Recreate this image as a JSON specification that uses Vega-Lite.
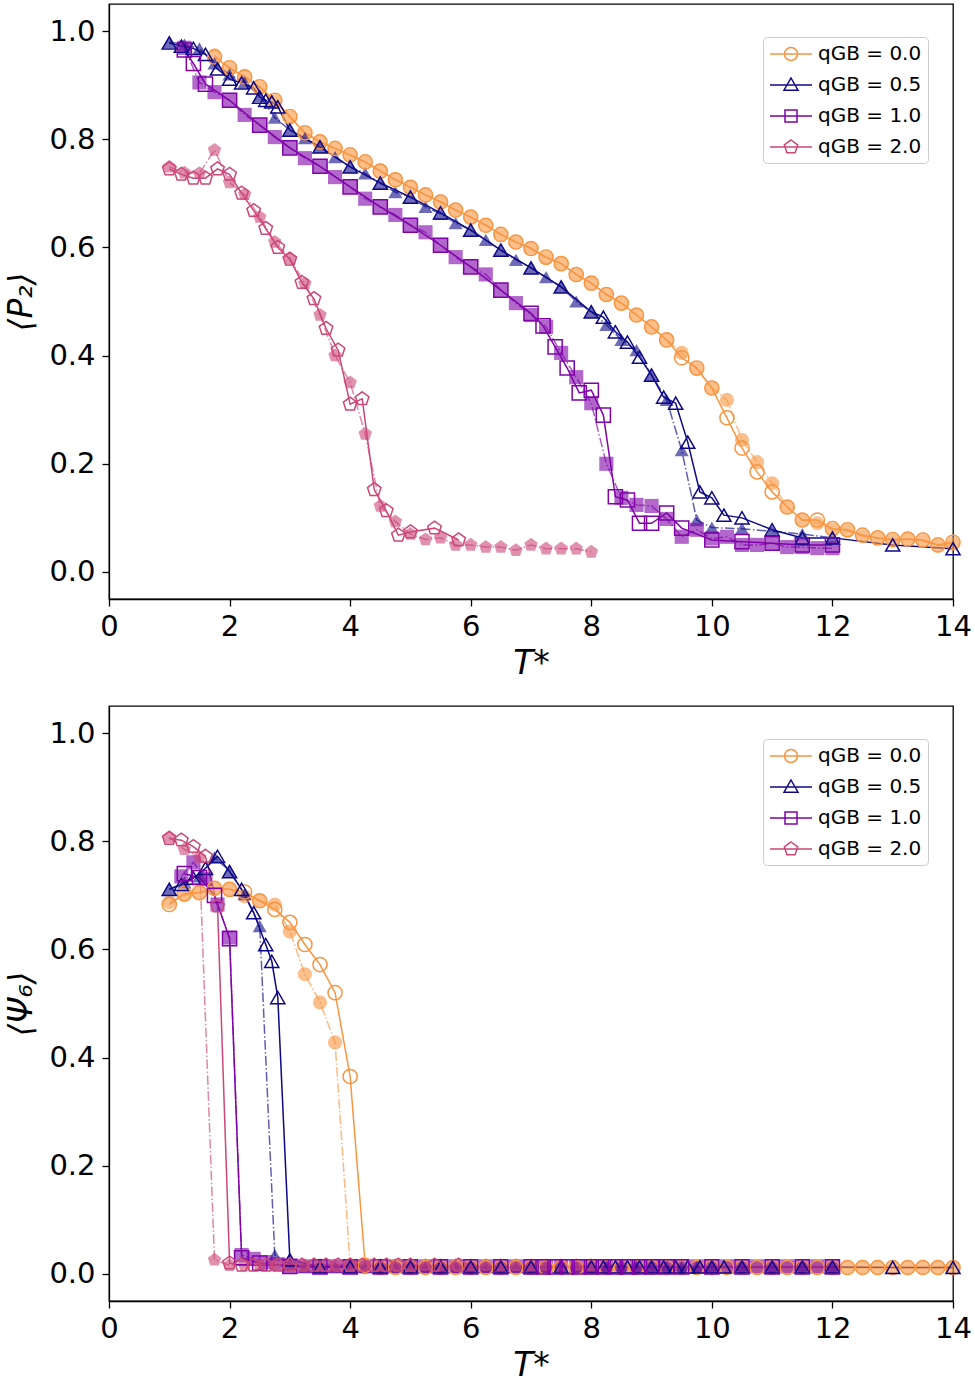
{
  "$schema": "https://vega.github.io/schema/vega-lite/v6.json",
  "padding": {"top": 3, "left": 5, "right": 5, "bottom": 2},
  "spacing": 24,
  "config": {
    "font": "DejaVu Sans",
    "view": {"stroke": "black", "strokeWidth": 1.3},
    "axis": {
      "grid": false, "domainColor": "black", "domainWidth": 1.3,
      "tickColor": "black", "tickWidth": 1.3, "tickSize": 7,
      "labelFontSize": 29, "labelColor": "black", "labelPadding": 7,
      "titleFontSize": 33, "titleFontWeight": "normal", "titleColor": "black", "titleFontStyle": "italic"
    },
    "axisX": {"titlePadding": 6, "labelPadding": 6, "labelFlush": false},
    "axisY": {"titlePadding": 10},
    "legend": {
      "orient": "none", "legendX": 654, "legendY": 33, "title": null,
      "fillColor": "white", "strokeColor": "#cccccc", "cornerRadius": 4, "padding": 6,
      "labelFontSize": 20, "labelColor": "black", "labelOffset": 16, "rowPadding": 10,
      "symbolSize": 400, "symbolOffset": 11, "symbolStrokeWidth": 1.5, "symbolOpacity": 1
    }
  },
  "datasets": {
    "top": [
      {"q":"0.0","k":"o","T":1.75,"v":0.952},{"q":"0.0","k":"o","T":2,"v":0.932},{"q":"0.0","k":"o","T":2.25,"v":0.915},{"q":"0.0","k":"o","T":2.5,"v":0.897},{"q":"0.0","k":"o","T":2.75,"v":0.872},{"q":"0.0","k":"o","T":3,"v":0.842},{"q":"0.0","k":"o","T":3.25,"v":0.812},{"q":"0.0","k":"o","T":3.5,"v":0.795},{"q":"0.0","k":"o","T":3.75,"v":0.783},{"q":"0.0","k":"o","T":4,"v":0.771},{"q":"0.0","k":"o","T":4.25,"v":0.758},{"q":"0.0","k":"o","T":4.5,"v":0.741},{"q":"0.0","k":"o","T":4.75,"v":0.725},{"q":"0.0","k":"o","T":5,"v":0.711},{"q":"0.0","k":"o","T":5.25,"v":0.697},{"q":"0.0","k":"o","T":5.5,"v":0.684},{"q":"0.0","k":"o","T":5.75,"v":0.669},{"q":"0.0","k":"o","T":6,"v":0.656},{"q":"0.0","k":"o","T":6.25,"v":0.641},{"q":"0.0","k":"o","T":6.5,"v":0.624},{"q":"0.0","k":"o","T":6.75,"v":0.61},{"q":"0.0","k":"o","T":7,"v":0.598},{"q":"0.0","k":"o","T":7.25,"v":0.582},{"q":"0.0","k":"o","T":7.5,"v":0.57},{"q":"0.0","k":"o","T":7.75,"v":0.55},{"q":"0.0","k":"o","T":8,"v":0.534},{"q":"0.0","k":"o","T":8.25,"v":0.513},{"q":"0.0","k":"o","T":8.5,"v":0.497},{"q":"0.0","k":"o","T":8.75,"v":0.475},{"q":"0.0","k":"o","T":9,"v":0.453},{"q":"0.0","k":"o","T":9.25,"v":0.429},{"q":"0.0","k":"o","T":9.5,"v":0.396},{"q":"0.0","k":"o","T":9.75,"v":0.377},{"q":"0.0","k":"o","T":10,"v":0.34},{"q":"0.0","k":"o","T":10.25,"v":0.285},{"q":"0.0","k":"o","T":10.5,"v":0.229},{"q":"0.0","k":"o","T":10.75,"v":0.185},{"q":"0.0","k":"o","T":11,"v":0.148},{"q":"0.0","k":"o","T":11.25,"v":0.12},{"q":"0.0","k":"o","T":11.5,"v":0.096},{"q":"0.0","k":"o","T":11.75,"v":0.096},{"q":"0.0","k":"o","T":12,"v":0.08},{"q":"0.0","k":"o","T":12.25,"v":0.078},{"q":"0.0","k":"o","T":12.5,"v":0.068},{"q":"0.0","k":"o","T":12.75,"v":0.063},{"q":"0.0","k":"o","T":13,"v":0.06},{"q":"0.0","k":"o","T":13.25,"v":0.061},{"q":"0.0","k":"o","T":13.5,"v":0.059},{"q":"0.0","k":"o","T":13.75,"v":0.05},{"q":"0.0","k":"o","T":14,"v":0.055},
      {"q":"0.0","k":"f","T":1.75,"v":0.955},{"q":"0.0","k":"f","T":2,"v":0.93},{"q":"0.0","k":"f","T":2.25,"v":0.917},{"q":"0.0","k":"f","T":2.5,"v":0.895},{"q":"0.0","k":"f","T":2.75,"v":0.87},{"q":"0.0","k":"f","T":3,"v":0.84},{"q":"0.0","k":"f","T":3.25,"v":0.81},{"q":"0.0","k":"f","T":3.5,"v":0.796},{"q":"0.0","k":"f","T":3.75,"v":0.782},{"q":"0.0","k":"f","T":4,"v":0.77},{"q":"0.0","k":"f","T":4.25,"v":0.757},{"q":"0.0","k":"f","T":4.5,"v":0.742},{"q":"0.0","k":"f","T":4.75,"v":0.726},{"q":"0.0","k":"f","T":5,"v":0.712},{"q":"0.0","k":"f","T":5.25,"v":0.697},{"q":"0.0","k":"f","T":5.5,"v":0.685},{"q":"0.0","k":"f","T":5.75,"v":0.669},{"q":"0.0","k":"f","T":6,"v":0.656},{"q":"0.0","k":"f","T":6.25,"v":0.641},{"q":"0.0","k":"f","T":6.5,"v":0.623},{"q":"0.0","k":"f","T":6.75,"v":0.61},{"q":"0.0","k":"f","T":7,"v":0.599},{"q":"0.0","k":"f","T":7.25,"v":0.58},{"q":"0.0","k":"f","T":7.5,"v":0.571},{"q":"0.0","k":"f","T":7.75,"v":0.549},{"q":"0.0","k":"f","T":8,"v":0.534},{"q":"0.0","k":"f","T":8.25,"v":0.512},{"q":"0.0","k":"f","T":8.5,"v":0.497},{"q":"0.0","k":"f","T":8.75,"v":0.475},{"q":"0.0","k":"f","T":9,"v":0.453},{"q":"0.0","k":"f","T":9.25,"v":0.429},{"q":"0.0","k":"f","T":9.5,"v":0.405},{"q":"0.0","k":"f","T":9.75,"v":0.375},{"q":"0.0","k":"f","T":10,"v":0.34},{"q":"0.0","k":"f","T":10.25,"v":0.318},{"q":"0.0","k":"f","T":10.5,"v":0.244},{"q":"0.0","k":"f","T":10.75,"v":0.203},{"q":"0.0","k":"f","T":11,"v":0.164},{"q":"0.0","k":"f","T":11.25,"v":0.12},{"q":"0.0","k":"f","T":11.5,"v":0.096},{"q":"0.0","k":"f","T":11.75,"v":0.09},{"q":"0.0","k":"f","T":12,"v":0.078},{"q":"0.0","k":"f","T":12.25,"v":0.076},{"q":"0.0","k":"f","T":12.5,"v":0.066},{"q":"0.0","k":"f","T":12.75,"v":0.062},{"q":"0.0","k":"f","T":13,"v":0.058},{"q":"0.0","k":"f","T":13.25,"v":0.06},{"q":"0.0","k":"f","T":13.5,"v":0.057},{"q":"0.0","k":"f","T":13.75,"v":0.049},{"q":"0.0","k":"f","T":14,"v":0.052},
      {"q":"0.5","k":"o","T":1,"v":0.978},{"q":"0.5","k":"o","T":1.2,"v":0.972},{"q":"0.5","k":"o","T":1.4,"v":0.968},{"q":"0.5","k":"o","T":1.6,"v":0.957},{"q":"0.5","k":"o","T":1.8,"v":0.93},{"q":"0.5","k":"o","T":2,"v":0.911},{"q":"0.5","k":"o","T":2.2,"v":0.904},{"q":"0.5","k":"o","T":2.4,"v":0.895},{"q":"0.5","k":"o","T":2.5,"v":0.878},{"q":"0.5","k":"o","T":2.6,"v":0.872},{"q":"0.5","k":"o","T":2.7,"v":0.869},{"q":"0.5","k":"o","T":2.8,"v":0.86},{"q":"0.5","k":"o","T":3,"v":0.817},{"q":"0.5","k":"o","T":3.5,"v":0.786},{"q":"0.5","k":"o","T":4,"v":0.749},{"q":"0.5","k":"o","T":4.5,"v":0.719},{"q":"0.5","k":"o","T":5,"v":0.693},{"q":"0.5","k":"o","T":5.5,"v":0.664},{"q":"0.5","k":"o","T":6,"v":0.632},{"q":"0.5","k":"o","T":6.5,"v":0.595},{"q":"0.5","k":"o","T":7,"v":0.562},{"q":"0.5","k":"o","T":7.5,"v":0.527},{"q":"0.5","k":"o","T":8,"v":0.481},{"q":"0.5","k":"o","T":8.2,"v":0.471},{"q":"0.5","k":"o","T":8.4,"v":0.444},{"q":"0.5","k":"o","T":8.6,"v":0.425},{"q":"0.5","k":"o","T":8.8,"v":0.397},{"q":"0.5","k":"o","T":9,"v":0.364},{"q":"0.5","k":"o","T":9.2,"v":0.323},{"q":"0.5","k":"o","T":9.4,"v":0.312},{"q":"0.5","k":"o","T":9.6,"v":0.24},{"q":"0.5","k":"o","T":9.8,"v":0.148},{"q":"0.5","k":"o","T":10,"v":0.137},{"q":"0.5","k":"o","T":10.2,"v":0.105},{"q":"0.5","k":"o","T":10.5,"v":0.1},{"q":"0.5","k":"o","T":11,"v":0.078},{"q":"0.5","k":"o","T":11.5,"v":0.063},{"q":"0.5","k":"o","T":12,"v":0.063},{"q":"0.5","k":"o","T":13,"v":0.05},{"q":"0.5","k":"o","T":14,"v":0.043},
      {"q":"0.5","k":"f","T":1,"v":0.98},{"q":"0.5","k":"f","T":1.25,"v":0.975},{"q":"0.5","k":"f","T":1.5,"v":0.968},{"q":"0.5","k":"f","T":1.75,"v":0.94},{"q":"0.5","k":"f","T":2,"v":0.92},{"q":"0.5","k":"f","T":2.25,"v":0.905},{"q":"0.5","k":"f","T":2.5,"v":0.88},{"q":"0.5","k":"f","T":2.75,"v":0.84},{"q":"0.5","k":"f","T":3,"v":0.817},{"q":"0.5","k":"f","T":3.25,"v":0.802},{"q":"0.5","k":"f","T":3.5,"v":0.786},{"q":"0.5","k":"f","T":3.75,"v":0.767},{"q":"0.5","k":"f","T":4,"v":0.749},{"q":"0.5","k":"f","T":4.25,"v":0.737},{"q":"0.5","k":"f","T":4.5,"v":0.719},{"q":"0.5","k":"f","T":4.75,"v":0.702},{"q":"0.5","k":"f","T":5,"v":0.693},{"q":"0.5","k":"f","T":5.25,"v":0.675},{"q":"0.5","k":"f","T":5.5,"v":0.662},{"q":"0.5","k":"f","T":5.75,"v":0.645},{"q":"0.5","k":"f","T":6,"v":0.632},{"q":"0.5","k":"f","T":6.25,"v":0.614},{"q":"0.5","k":"f","T":6.5,"v":0.595},{"q":"0.5","k":"f","T":6.75,"v":0.577},{"q":"0.5","k":"f","T":7,"v":0.562},{"q":"0.5","k":"f","T":7.25,"v":0.545},{"q":"0.5","k":"f","T":7.5,"v":0.527},{"q":"0.5","k":"f","T":7.75,"v":0.5},{"q":"0.5","k":"f","T":8,"v":0.481},{"q":"0.5","k":"f","T":8.25,"v":0.457},{"q":"0.5","k":"f","T":8.5,"v":0.429},{"q":"0.5","k":"f","T":8.75,"v":0.41},{"q":"0.5","k":"f","T":9,"v":0.364},{"q":"0.5","k":"f","T":9.25,"v":0.318},{"q":"0.5","k":"f","T":9.5,"v":0.225},{"q":"0.5","k":"f","T":9.75,"v":0.096},{"q":"0.5","k":"f","T":10,"v":0.082},{"q":"0.5","k":"f","T":10.5,"v":0.08},{"q":"0.5","k":"f","T":11,"v":0.075},{"q":"0.5","k":"f","T":11.5,"v":0.07},{"q":"0.5","k":"f","T":12,"v":0.063},
      {"q":"1.0","k":"o","T":1.25,"v":0.965},{"q":"1.0","k":"o","T":1.4,"v":0.94},{"q":"1.0","k":"o","T":1.6,"v":0.902},{"q":"1.0","k":"o","T":2,"v":0.872},{"q":"1.0","k":"o","T":2.5,"v":0.826},{"q":"1.0","k":"o","T":3,"v":0.784},{"q":"1.0","k":"o","T":3.5,"v":0.75},{"q":"1.0","k":"o","T":4,"v":0.712},{"q":"1.0","k":"o","T":4.5,"v":0.675},{"q":"1.0","k":"o","T":5,"v":0.641},{"q":"1.0","k":"o","T":5.5,"v":0.604},{"q":"1.0","k":"o","T":6,"v":0.564},{"q":"1.0","k":"o","T":6.5,"v":0.521},{"q":"1.0","k":"o","T":7,"v":0.478},{"q":"1.0","k":"o","T":7.2,"v":0.455},{"q":"1.0","k":"o","T":7.4,"v":0.416},{"q":"1.0","k":"o","T":7.6,"v":0.377},{"q":"1.0","k":"o","T":7.8,"v":0.331},{"q":"1.0","k":"o","T":8,"v":0.336},{"q":"1.0","k":"o","T":8.2,"v":0.29},{"q":"1.0","k":"o","T":8.4,"v":0.139},{"q":"1.0","k":"o","T":8.6,"v":0.133},{"q":"1.0","k":"o","T":8.8,"v":0.09},{"q":"1.0","k":"o","T":9,"v":0.09},{"q":"1.0","k":"o","T":9.25,"v":0.109},{"q":"1.0","k":"o","T":9.5,"v":0.081},{"q":"1.0","k":"o","T":10,"v":0.059},{"q":"1.0","k":"o","T":10.5,"v":0.056},{"q":"1.0","k":"o","T":11,"v":0.053},{"q":"1.0","k":"o","T":11.5,"v":0.05},{"q":"1.0","k":"o","T":12,"v":0.05},
      {"q":"1.0","k":"f","T":1.25,"v":0.969},{"q":"1.0","k":"f","T":1.5,"v":0.905},{"q":"1.0","k":"f","T":1.75,"v":0.887},{"q":"1.0","k":"f","T":2,"v":0.872},{"q":"1.0","k":"f","T":2.25,"v":0.845},{"q":"1.0","k":"f","T":2.5,"v":0.826},{"q":"1.0","k":"f","T":2.75,"v":0.804},{"q":"1.0","k":"f","T":3,"v":0.784},{"q":"1.0","k":"f","T":3.25,"v":0.765},{"q":"1.0","k":"f","T":3.5,"v":0.75},{"q":"1.0","k":"f","T":3.75,"v":0.73},{"q":"1.0","k":"f","T":4,"v":0.712},{"q":"1.0","k":"f","T":4.25,"v":0.69},{"q":"1.0","k":"f","T":4.5,"v":0.675},{"q":"1.0","k":"f","T":4.75,"v":0.66},{"q":"1.0","k":"f","T":5,"v":0.641},{"q":"1.0","k":"f","T":5.25,"v":0.628},{"q":"1.0","k":"f","T":5.5,"v":0.604},{"q":"1.0","k":"f","T":5.75,"v":0.582},{"q":"1.0","k":"f","T":6,"v":0.564},{"q":"1.0","k":"f","T":6.25,"v":0.55},{"q":"1.0","k":"f","T":6.5,"v":0.521},{"q":"1.0","k":"f","T":6.75,"v":0.497},{"q":"1.0","k":"f","T":7,"v":0.475},{"q":"1.0","k":"f","T":7.25,"v":0.453},{"q":"1.0","k":"f","T":7.5,"v":0.405},{"q":"1.0","k":"f","T":7.75,"v":0.36},{"q":"1.0","k":"f","T":8,"v":0.312},{"q":"1.0","k":"f","T":8.25,"v":0.2},{"q":"1.0","k":"f","T":8.5,"v":0.137},{"q":"1.0","k":"f","T":8.75,"v":0.124},{"q":"1.0","k":"f","T":9,"v":0.122},{"q":"1.0","k":"f","T":9.25,"v":0.098},{"q":"1.0","k":"f","T":9.5,"v":0.065},{"q":"1.0","k":"f","T":9.75,"v":0.078},{"q":"1.0","k":"f","T":10,"v":0.062},{"q":"1.0","k":"f","T":10.25,"v":0.065},{"q":"1.0","k":"f","T":10.5,"v":0.05},{"q":"1.0","k":"f","T":10.75,"v":0.05},{"q":"1.0","k":"f","T":11,"v":0.053},{"q":"1.0","k":"f","T":11.25,"v":0.046},{"q":"1.0","k":"f","T":11.5,"v":0.046},{"q":"1.0","k":"f","T":11.75,"v":0.044},{"q":"1.0","k":"f","T":12,"v":0.044},
      {"q":"2.0","k":"o","T":1,"v":0.745},{"q":"2.0","k":"o","T":1.2,"v":0.735},{"q":"2.0","k":"o","T":1.4,"v":0.728},{"q":"2.0","k":"o","T":1.6,"v":0.728},{"q":"2.0","k":"o","T":1.8,"v":0.745},{"q":"2.0","k":"o","T":2,"v":0.735},{"q":"2.0","k":"o","T":2.2,"v":0.7},{"q":"2.0","k":"o","T":2.4,"v":0.668},{"q":"2.0","k":"o","T":2.6,"v":0.635},{"q":"2.0","k":"o","T":2.8,"v":0.6},{"q":"2.0","k":"o","T":3,"v":0.578},{"q":"2.0","k":"o","T":3.2,"v":0.535},{"q":"2.0","k":"o","T":3.4,"v":0.505},{"q":"2.0","k":"o","T":3.6,"v":0.45},{"q":"2.0","k":"o","T":3.8,"v":0.41},{"q":"2.0","k":"o","T":4,"v":0.31},{"q":"2.0","k":"o","T":4.2,"v":0.32},{"q":"2.0","k":"o","T":4.4,"v":0.152},{"q":"2.0","k":"o","T":4.6,"v":0.113},{"q":"2.0","k":"o","T":4.8,"v":0.068},{"q":"2.0","k":"o","T":5,"v":0.074},{"q":"2.0","k":"o","T":5.4,"v":0.081},{"q":"2.0","k":"o","T":5.8,"v":0.059},
      {"q":"2.0","k":"f","T":1,"v":0.749},{"q":"2.0","k":"f","T":1.25,"v":0.738},{"q":"2.0","k":"f","T":1.5,"v":0.737},{"q":"2.0","k":"f","T":1.75,"v":0.78},{"q":"2.0","k":"f","T":2,"v":0.72},{"q":"2.0","k":"f","T":2.25,"v":0.698},{"q":"2.0","k":"f","T":2.5,"v":0.656},{"q":"2.0","k":"f","T":2.75,"v":0.61},{"q":"2.0","k":"f","T":3,"v":0.58},{"q":"2.0","k":"f","T":3.25,"v":0.533},{"q":"2.0","k":"f","T":3.5,"v":0.475},{"q":"2.0","k":"f","T":3.75,"v":0.4},{"q":"2.0","k":"f","T":4,"v":0.35},{"q":"2.0","k":"f","T":4.25,"v":0.255},{"q":"2.0","k":"f","T":4.5,"v":0.122},{"q":"2.0","k":"f","T":4.75,"v":0.093},{"q":"2.0","k":"f","T":5,"v":0.07},{"q":"2.0","k":"f","T":5.25,"v":0.06},{"q":"2.0","k":"f","T":5.5,"v":0.063},{"q":"2.0","k":"f","T":5.75,"v":0.05},{"q":"2.0","k":"f","T":6,"v":0.05},{"q":"2.0","k":"f","T":6.25,"v":0.046},{"q":"2.0","k":"f","T":6.5,"v":0.046},{"q":"2.0","k":"f","T":6.75,"v":0.04},{"q":"2.0","k":"f","T":7,"v":0.05},{"q":"2.0","k":"f","T":7.25,"v":0.043},{"q":"2.0","k":"f","T":7.5,"v":0.043},{"q":"2.0","k":"f","T":7.75,"v":0.043},{"q":"2.0","k":"f","T":8,"v":0.037}
    ],
    "bot": [
      {"q":"0.0","k":"o","T":1,"v":0.683},{"q":"0.0","k":"o","T":1.25,"v":0.703},{"q":"0.0","k":"o","T":1.5,"v":0.705},{"q":"0.0","k":"o","T":1.75,"v":0.713},{"q":"0.0","k":"o","T":2,"v":0.711},{"q":"0.0","k":"o","T":2.25,"v":0.706},{"q":"0.0","k":"o","T":2.5,"v":0.69},{"q":"0.0","k":"o","T":2.75,"v":0.674},{"q":"0.0","k":"o","T":3,"v":0.65},{"q":"0.0","k":"o","T":3.25,"v":0.609},{"q":"0.0","k":"o","T":3.5,"v":0.572},{"q":"0.0","k":"o","T":3.75,"v":0.52},{"q":"0.0","k":"o","T":4,"v":0.365},{"q":"0.0","k":"o","T":4.25,"v":0.016},{"q":"0.0","k":"o","T":4.5,"v":0.012},{"q":"0.0","k":"o","T":4.75,"v":0.012},{"q":"0.0","k":"o","T":5,"v":0.012},{"q":"0.0","k":"o","T":5.25,"v":0.012},{"q":"0.0","k":"o","T":5.5,"v":0.012},{"q":"0.0","k":"o","T":5.75,"v":0.012},{"q":"0.0","k":"o","T":6,"v":0.012},{"q":"0.0","k":"o","T":6.25,"v":0.012},{"q":"0.0","k":"o","T":6.5,"v":0.012},{"q":"0.0","k":"o","T":6.75,"v":0.012},{"q":"0.0","k":"o","T":7,"v":0.012},{"q":"0.0","k":"o","T":7.25,"v":0.012},{"q":"0.0","k":"o","T":7.5,"v":0.012},{"q":"0.0","k":"o","T":7.75,"v":0.012},{"q":"0.0","k":"o","T":8,"v":0.012},{"q":"0.0","k":"o","T":8.25,"v":0.012},{"q":"0.0","k":"o","T":8.5,"v":0.012},{"q":"0.0","k":"o","T":8.75,"v":0.012},{"q":"0.0","k":"o","T":9,"v":0.012},{"q":"0.0","k":"o","T":9.25,"v":0.012},{"q":"0.0","k":"o","T":9.5,"v":0.012},{"q":"0.0","k":"o","T":9.75,"v":0.012},{"q":"0.0","k":"o","T":10,"v":0.012},{"q":"0.0","k":"o","T":10.25,"v":0.012},{"q":"0.0","k":"o","T":10.5,"v":0.012},{"q":"0.0","k":"o","T":10.75,"v":0.012},{"q":"0.0","k":"o","T":11,"v":0.012},{"q":"0.0","k":"o","T":11.25,"v":0.012},{"q":"0.0","k":"o","T":11.5,"v":0.012},{"q":"0.0","k":"o","T":11.75,"v":0.012},{"q":"0.0","k":"o","T":12,"v":0.012},{"q":"0.0","k":"o","T":12.25,"v":0.012},{"q":"0.0","k":"o","T":12.5,"v":0.012},{"q":"0.0","k":"o","T":12.75,"v":0.012},{"q":"0.0","k":"o","T":13,"v":0.012},{"q":"0.0","k":"o","T":13.25,"v":0.012},{"q":"0.0","k":"o","T":13.5,"v":0.012},{"q":"0.0","k":"o","T":13.75,"v":0.012},{"q":"0.0","k":"o","T":14,"v":0.012},
      {"q":"0.0","k":"f","T":1,"v":0.687},{"q":"0.0","k":"f","T":1.25,"v":0.7},{"q":"0.0","k":"f","T":1.5,"v":0.705},{"q":"0.0","k":"f","T":1.75,"v":0.712},{"q":"0.0","k":"f","T":2,"v":0.711},{"q":"0.0","k":"f","T":2.25,"v":0.698},{"q":"0.0","k":"f","T":2.5,"v":0.69},{"q":"0.0","k":"f","T":2.75,"v":0.683},{"q":"0.0","k":"f","T":3,"v":0.633},{"q":"0.0","k":"f","T":3.25,"v":0.554},{"q":"0.0","k":"f","T":3.5,"v":0.502},{"q":"0.0","k":"f","T":3.75,"v":0.428},{"q":"0.0","k":"f","T":4,"v":0.016},{"q":"0.0","k":"f","T":4.25,"v":0.012},{"q":"0.0","k":"f","T":4.5,"v":0.012},{"q":"0.0","k":"f","T":4.75,"v":0.012},{"q":"0.0","k":"f","T":5,"v":0.012},{"q":"0.0","k":"f","T":5.25,"v":0.012},{"q":"0.0","k":"f","T":5.5,"v":0.012},{"q":"0.0","k":"f","T":5.75,"v":0.012},{"q":"0.0","k":"f","T":6,"v":0.012},{"q":"0.0","k":"f","T":6.25,"v":0.012},{"q":"0.0","k":"f","T":6.5,"v":0.012},{"q":"0.0","k":"f","T":6.75,"v":0.012},{"q":"0.0","k":"f","T":7,"v":0.012},{"q":"0.0","k":"f","T":7.25,"v":0.012},{"q":"0.0","k":"f","T":7.5,"v":0.012},{"q":"0.0","k":"f","T":7.75,"v":0.012},{"q":"0.0","k":"f","T":8,"v":0.012},{"q":"0.0","k":"f","T":8.25,"v":0.012},{"q":"0.0","k":"f","T":8.5,"v":0.012},{"q":"0.0","k":"f","T":8.75,"v":0.012},{"q":"0.0","k":"f","T":9,"v":0.012},{"q":"0.0","k":"f","T":9.25,"v":0.012},{"q":"0.0","k":"f","T":9.5,"v":0.012},{"q":"0.0","k":"f","T":9.75,"v":0.012},{"q":"0.0","k":"f","T":10,"v":0.012},{"q":"0.0","k":"f","T":10.25,"v":0.012},{"q":"0.0","k":"f","T":10.5,"v":0.012},{"q":"0.0","k":"f","T":10.75,"v":0.012},{"q":"0.0","k":"f","T":11,"v":0.012},{"q":"0.0","k":"f","T":11.25,"v":0.012},{"q":"0.0","k":"f","T":11.5,"v":0.012},{"q":"0.0","k":"f","T":11.75,"v":0.012},{"q":"0.0","k":"f","T":12,"v":0.012},{"q":"0.0","k":"f","T":12.25,"v":0.012},{"q":"0.0","k":"f","T":12.5,"v":0.012},{"q":"0.0","k":"f","T":12.75,"v":0.012},{"q":"0.0","k":"f","T":13,"v":0.012},{"q":"0.0","k":"f","T":13.25,"v":0.012},{"q":"0.0","k":"f","T":13.5,"v":0.012},{"q":"0.0","k":"f","T":13.75,"v":0.012},{"q":"0.0","k":"f","T":14,"v":0.012},
      {"q":"0.5","k":"o","T":1,"v":0.711},{"q":"0.5","k":"o","T":1.2,"v":0.72},{"q":"0.5","k":"o","T":1.4,"v":0.732},{"q":"0.5","k":"o","T":1.6,"v":0.75},{"q":"0.5","k":"o","T":1.8,"v":0.772},{"q":"0.5","k":"o","T":2,"v":0.744},{"q":"0.5","k":"o","T":2.2,"v":0.711},{"q":"0.5","k":"o","T":2.4,"v":0.668},{"q":"0.5","k":"o","T":2.6,"v":0.609},{"q":"0.5","k":"o","T":2.7,"v":0.578},{"q":"0.5","k":"o","T":2.8,"v":0.511},{"q":"0.5","k":"o","T":3,"v":0.026},{"q":"0.5","k":"o","T":3.5,"v":0.013},{"q":"0.5","k":"o","T":4,"v":0.013},{"q":"0.5","k":"o","T":4.5,"v":0.013},{"q":"0.5","k":"o","T":5,"v":0.013},{"q":"0.5","k":"o","T":5.5,"v":0.013},{"q":"0.5","k":"o","T":6,"v":0.013},{"q":"0.5","k":"o","T":6.5,"v":0.013},{"q":"0.5","k":"o","T":7,"v":0.013},{"q":"0.5","k":"o","T":7.5,"v":0.013},{"q":"0.5","k":"o","T":8,"v":0.013},{"q":"0.5","k":"o","T":8.2,"v":0.013},{"q":"0.5","k":"o","T":8.4,"v":0.013},{"q":"0.5","k":"o","T":8.6,"v":0.013},{"q":"0.5","k":"o","T":8.8,"v":0.013},{"q":"0.5","k":"o","T":9,"v":0.013},{"q":"0.5","k":"o","T":9.2,"v":0.013},{"q":"0.5","k":"o","T":9.4,"v":0.013},{"q":"0.5","k":"o","T":9.6,"v":0.013},{"q":"0.5","k":"o","T":9.8,"v":0.013},{"q":"0.5","k":"o","T":10,"v":0.013},{"q":"0.5","k":"o","T":10.2,"v":0.013},{"q":"0.5","k":"o","T":10.5,"v":0.013},{"q":"0.5","k":"o","T":11,"v":0.013},{"q":"0.5","k":"o","T":11.5,"v":0.013},{"q":"0.5","k":"o","T":12,"v":0.013},{"q":"0.5","k":"o","T":13,"v":0.012},{"q":"0.5","k":"o","T":14,"v":0.012},
      {"q":"0.5","k":"f","T":1,"v":0.711},{"q":"0.5","k":"f","T":1.25,"v":0.724},{"q":"0.5","k":"f","T":1.5,"v":0.735},{"q":"0.5","k":"f","T":1.75,"v":0.77},{"q":"0.5","k":"f","T":2,"v":0.745},{"q":"0.5","k":"f","T":2.25,"v":0.702},{"q":"0.5","k":"f","T":2.5,"v":0.643},{"q":"0.5","k":"f","T":2.75,"v":0.035},{"q":"0.5","k":"f","T":3,"v":0.018},{"q":"0.5","k":"f","T":3.25,"v":0.013},{"q":"0.5","k":"f","T":3.5,"v":0.013},{"q":"0.5","k":"f","T":3.75,"v":0.013},{"q":"0.5","k":"f","T":4,"v":0.013},{"q":"0.5","k":"f","T":4.25,"v":0.013},{"q":"0.5","k":"f","T":4.5,"v":0.013},{"q":"0.5","k":"f","T":4.75,"v":0.013},{"q":"0.5","k":"f","T":5,"v":0.013},{"q":"0.5","k":"f","T":5.25,"v":0.013},{"q":"0.5","k":"f","T":5.5,"v":0.013},{"q":"0.5","k":"f","T":5.75,"v":0.013},{"q":"0.5","k":"f","T":6,"v":0.013},{"q":"0.5","k":"f","T":6.25,"v":0.013},{"q":"0.5","k":"f","T":6.5,"v":0.013},{"q":"0.5","k":"f","T":6.75,"v":0.013},{"q":"0.5","k":"f","T":7,"v":0.013},{"q":"0.5","k":"f","T":7.25,"v":0.013},{"q":"0.5","k":"f","T":7.5,"v":0.013},{"q":"0.5","k":"f","T":7.75,"v":0.013},{"q":"0.5","k":"f","T":8,"v":0.013},{"q":"0.5","k":"f","T":8.25,"v":0.013},{"q":"0.5","k":"f","T":8.5,"v":0.013},{"q":"0.5","k":"f","T":8.75,"v":0.013},{"q":"0.5","k":"f","T":9,"v":0.013},{"q":"0.5","k":"f","T":9.25,"v":0.013},{"q":"0.5","k":"f","T":9.5,"v":0.013},{"q":"0.5","k":"f","T":9.75,"v":0.013},{"q":"0.5","k":"f","T":10,"v":0.013},{"q":"0.5","k":"f","T":10.5,"v":0.013},{"q":"0.5","k":"f","T":11,"v":0.013},{"q":"0.5","k":"f","T":11.5,"v":0.013},{"q":"0.5","k":"f","T":12,"v":0.013},
      {"q":"1.0","k":"o","T":1.25,"v":0.74},{"q":"1.0","k":"o","T":1.5,"v":0.733},{"q":"1.0","k":"o","T":1.75,"v":0.7},{"q":"1.0","k":"o","T":2,"v":0.62},{"q":"1.0","k":"o","T":2.2,"v":0.03},{"q":"1.0","k":"o","T":2.5,"v":0.02},{"q":"1.0","k":"o","T":3,"v":0.014},{"q":"1.0","k":"o","T":3.5,"v":0.013},{"q":"1.0","k":"o","T":4,"v":0.013},{"q":"1.0","k":"o","T":4.5,"v":0.013},{"q":"1.0","k":"o","T":5,"v":0.013},{"q":"1.0","k":"o","T":5.5,"v":0.013},{"q":"1.0","k":"o","T":6,"v":0.013},{"q":"1.0","k":"o","T":6.5,"v":0.013},{"q":"1.0","k":"o","T":7,"v":0.013},{"q":"1.0","k":"o","T":7.2,"v":0.013},{"q":"1.0","k":"o","T":7.4,"v":0.013},{"q":"1.0","k":"o","T":7.6,"v":0.013},{"q":"1.0","k":"o","T":7.8,"v":0.013},{"q":"1.0","k":"o","T":8,"v":0.013},{"q":"1.0","k":"o","T":8.2,"v":0.013},{"q":"1.0","k":"o","T":8.4,"v":0.013},{"q":"1.0","k":"o","T":8.6,"v":0.013},{"q":"1.0","k":"o","T":8.8,"v":0.013},{"q":"1.0","k":"o","T":9,"v":0.013},{"q":"1.0","k":"o","T":9.25,"v":0.013},{"q":"1.0","k":"o","T":9.5,"v":0.013},{"q":"1.0","k":"o","T":10,"v":0.013},{"q":"1.0","k":"o","T":10.5,"v":0.013},{"q":"1.0","k":"o","T":11,"v":0.013},{"q":"1.0","k":"o","T":11.5,"v":0.013},{"q":"1.0","k":"o","T":12,"v":0.013},
      {"q":"1.0","k":"f","T":1.2,"v":0.735},{"q":"1.0","k":"f","T":1.4,"v":0.761},{"q":"1.0","k":"f","T":1.6,"v":0.73},{"q":"1.0","k":"f","T":1.8,"v":0.683},{"q":"1.0","k":"f","T":2,"v":0.622},{"q":"1.0","k":"f","T":2.2,"v":0.035},{"q":"1.0","k":"f","T":2.4,"v":0.028},{"q":"1.0","k":"f","T":2.6,"v":0.022},{"q":"1.0","k":"f","T":2.8,"v":0.018},{"q":"1.0","k":"f","T":3,"v":0.014},{"q":"1.0","k":"f","T":3.25,"v":0.014},{"q":"1.0","k":"f","T":3.5,"v":0.014},{"q":"1.0","k":"f","T":3.75,"v":0.014},{"q":"1.0","k":"f","T":4,"v":0.014},{"q":"1.0","k":"f","T":4.25,"v":0.014},{"q":"1.0","k":"f","T":4.5,"v":0.014},{"q":"1.0","k":"f","T":4.75,"v":0.014},{"q":"1.0","k":"f","T":5,"v":0.014},{"q":"1.0","k":"f","T":5.25,"v":0.014},{"q":"1.0","k":"f","T":5.5,"v":0.014},{"q":"1.0","k":"f","T":5.75,"v":0.014},{"q":"1.0","k":"f","T":6,"v":0.014},{"q":"1.0","k":"f","T":6.25,"v":0.014},{"q":"1.0","k":"f","T":6.5,"v":0.014},{"q":"1.0","k":"f","T":6.75,"v":0.014},{"q":"1.0","k":"f","T":7,"v":0.014},{"q":"1.0","k":"f","T":7.25,"v":0.014},{"q":"1.0","k":"f","T":7.5,"v":0.014},{"q":"1.0","k":"f","T":7.75,"v":0.014},{"q":"1.0","k":"f","T":8,"v":0.014},{"q":"1.0","k":"f","T":8.25,"v":0.014},{"q":"1.0","k":"f","T":8.5,"v":0.014},{"q":"1.0","k":"f","T":8.75,"v":0.014},{"q":"1.0","k":"f","T":9,"v":0.014},{"q":"1.0","k":"f","T":9.25,"v":0.014},{"q":"1.0","k":"f","T":9.5,"v":0.014},{"q":"1.0","k":"f","T":9.75,"v":0.014},{"q":"1.0","k":"f","T":10,"v":0.014},{"q":"1.0","k":"f","T":10.25,"v":0.014},{"q":"1.0","k":"f","T":10.5,"v":0.014},{"q":"1.0","k":"f","T":10.75,"v":0.014},{"q":"1.0","k":"f","T":11,"v":0.014},{"q":"1.0","k":"f","T":11.25,"v":0.014},{"q":"1.0","k":"f","T":11.5,"v":0.014},{"q":"1.0","k":"f","T":11.75,"v":0.014},{"q":"1.0","k":"f","T":12,"v":0.014},
      {"q":"2.0","k":"o","T":1,"v":0.805},{"q":"2.0","k":"o","T":1.2,"v":0.802},{"q":"2.0","k":"o","T":1.4,"v":0.79},{"q":"2.0","k":"o","T":1.6,"v":0.772},{"q":"2.0","k":"o","T":1.8,"v":0.68},{"q":"2.0","k":"o","T":2,"v":0.02},{"q":"2.0","k":"o","T":2.2,"v":0.016},{"q":"2.0","k":"o","T":2.4,"v":0.016},{"q":"2.0","k":"o","T":2.6,"v":0.016},{"q":"2.0","k":"o","T":2.8,"v":0.016},{"q":"2.0","k":"o","T":3,"v":0.016},{"q":"2.0","k":"o","T":3.2,"v":0.016},{"q":"2.0","k":"o","T":3.4,"v":0.016},{"q":"2.0","k":"o","T":3.6,"v":0.016},{"q":"2.0","k":"o","T":3.8,"v":0.016},{"q":"2.0","k":"o","T":4,"v":0.016},{"q":"2.0","k":"o","T":4.2,"v":0.016},{"q":"2.0","k":"o","T":4.4,"v":0.016},{"q":"2.0","k":"o","T":4.6,"v":0.016},{"q":"2.0","k":"o","T":4.8,"v":0.016},{"q":"2.0","k":"o","T":5,"v":0.016},{"q":"2.0","k":"o","T":5.4,"v":0.016},{"q":"2.0","k":"o","T":5.8,"v":0.016},
      {"q":"2.0","k":"f","T":1,"v":0.807},{"q":"2.0","k":"f","T":1.25,"v":0.785},{"q":"2.0","k":"f","T":1.5,"v":0.77},{"q":"2.0","k":"f","T":1.75,"v":0.026},{"q":"2.0","k":"f","T":2,"v":0.016},{"q":"2.0","k":"f","T":2.25,"v":0.016},{"q":"2.0","k":"f","T":2.5,"v":0.016},{"q":"2.0","k":"f","T":2.75,"v":0.016},{"q":"2.0","k":"f","T":3,"v":0.016},{"q":"2.0","k":"f","T":3.25,"v":0.016},{"q":"2.0","k":"f","T":3.5,"v":0.016},{"q":"2.0","k":"f","T":3.75,"v":0.016},{"q":"2.0","k":"f","T":4,"v":0.016},{"q":"2.0","k":"f","T":4.25,"v":0.016},{"q":"2.0","k":"f","T":4.5,"v":0.016},{"q":"2.0","k":"f","T":4.75,"v":0.016},{"q":"2.0","k":"f","T":5,"v":0.016},{"q":"2.0","k":"f","T":5.25,"v":0.016},{"q":"2.0","k":"f","T":5.5,"v":0.016},{"q":"2.0","k":"f","T":5.75,"v":0.016},{"q":"2.0","k":"f","T":6,"v":0.016},{"q":"2.0","k":"f","T":6.25,"v":0.016},{"q":"2.0","k":"f","T":6.5,"v":0.016},{"q":"2.0","k":"f","T":6.75,"v":0.016},{"q":"2.0","k":"f","T":7,"v":0.016},{"q":"2.0","k":"f","T":7.25,"v":0.016},{"q":"2.0","k":"f","T":7.5,"v":0.016},{"q":"2.0","k":"f","T":7.75,"v":0.016},{"q":"2.0","k":"f","T":8,"v":0.016}
    ]
  },
  "vconcat": [
    {
      "data": {"name": "top"},
      "width": 844,
      "height": 595,
      "encoding": {
        "x": {"field": "T", "type": "quantitative", "scale": {"domain": [0, 14], "nice": false}, "axis": {"values": [0, 2, 4, 6, 8, 10, 12, 14], "title": "T*"}},
        "y": {"field": "v", "type": "quantitative", "scale": {"domain": [-0.05, 1.05], "nice": false, "zero": false}, "axis": {"values": [0, 0.2, 0.4, 0.6, 0.8, 1], "format": ".1f", "title": "⟨P₂⟩"}},
        "color": {"field": "q", "type": "nominal", "scale": {"domain": ["0.0", "0.5", "1.0", "2.0"], "range": ["#f89540", "#0d0887", "#7e03a8", "#cc4778"]}, "legend": null}
      },
      "layer": [
        {"transform": [{"filter": "datum.k == 'f'"}], "mark": {"type": "line", "strokeWidth": 1.5, "strokeDash": [9.6, 2.4, 1.5, 2.4], "opacity": 0.65}},
        {"transform": [{"filter": "datum.k == 'o'"}], "mark": {"type": "line", "strokeWidth": 1.5}},
        {"transform": [{"filter": "datum.k == 'f'"}], "mark": {"type": "point", "filled": true, "opacity": 0.6, "size": 200},
         "encoding": {"shape": {"field": "q", "type": "nominal", "legend": null, "scale": {"domain": ["0.0", "0.5", "1.0", "2.0"], "range": ["circle", "triangle-up", "square", "M0,-1L0.951,-0.309L0.588,0.809L-0.588,0.809L-0.951,-0.309Z"]}}}},
        {"transform": [{"filter": "datum.k == 'o'"}], "mark": {"type": "point", "filled": false, "opacity": 1, "strokeWidth": 1.5, "size": 200},
         "encoding": {"shape": {"field": "q", "type": "nominal", "legend": null, "scale": {"domain": ["0.0", "0.5", "1.0", "2.0"], "range": ["circle", "triangle-up", "square", "M0,-1L0.951,-0.309L0.588,0.809L-0.588,0.809L-0.951,-0.309Z"]}}}},
        {"transform": [{"filter": "datum.k == 'o'"}], "mark": {"type": "point", "filled": false, "opacity": 0, "strokeWidth": 1.5},
         "encoding": {
           "color": {"field": "q", "type": "nominal", "scale": {"domain": ["0.0", "0.5", "1.0", "2.0"], "range": ["#f89540", "#0d0887", "#7e03a8", "#cc4778"]}, "legend": {"labelExpr": "'qGB = ' + datum.label"}},
           "shape": {"field": "q", "type": "nominal", "scale": {"domain": ["0.0", "0.5", "1.0", "2.0"], "range": ["M-2.1,0H2.1M0.65,0A0.65,0.65 0 1 1 -0.65,0A0.65,0.65 0 1 1 0.65,0Z", "M-2.1,0H2.1M0,-0.7L0.7,0.52L-0.7,0.52Z", "M-2.1,0H2.1M-0.6,-0.6H0.6V0.6H-0.6Z", "M-2.1,0H2.1M0,-0.7L0.666,-0.216L0.411,0.566L-0.411,0.566L-0.666,-0.216Z"]}, "legend": {"labelExpr": "'qGB = ' + datum.label"}}
         }}
      ],
      "resolve": {"scale": {"color": "independent", "shape": "independent"}}
    },
    {
      "data": {"name": "bot"},
      "width": 844,
      "height": 595,
      "encoding": {
        "x": {"field": "T", "type": "quantitative", "scale": {"domain": [0, 14], "nice": false}, "axis": {"values": [0, 2, 4, 6, 8, 10, 12, 14], "title": "T*"}},
        "y": {"field": "v", "type": "quantitative", "scale": {"domain": [-0.05, 1.05], "nice": false, "zero": false}, "axis": {"values": [0, 0.2, 0.4, 0.6, 0.8, 1], "format": ".1f", "title": "⟨Ψ₆⟩"}},
        "color": {"field": "q", "type": "nominal", "scale": {"domain": ["0.0", "0.5", "1.0", "2.0"], "range": ["#f89540", "#0d0887", "#7e03a8", "#cc4778"]}, "legend": null}
      },
      "layer": [
        {"transform": [{"filter": "datum.k == 'f'"}], "mark": {"type": "line", "strokeWidth": 1.5, "strokeDash": [9.6, 2.4, 1.5, 2.4], "opacity": 0.65}},
        {"transform": [{"filter": "datum.k == 'o'"}], "mark": {"type": "line", "strokeWidth": 1.5}},
        {"transform": [{"filter": "datum.k == 'f'"}], "mark": {"type": "point", "filled": true, "opacity": 0.6, "size": 200},
         "encoding": {"shape": {"field": "q", "type": "nominal", "legend": null, "scale": {"domain": ["0.0", "0.5", "1.0", "2.0"], "range": ["circle", "triangle-up", "square", "M0,-1L0.951,-0.309L0.588,0.809L-0.588,0.809L-0.951,-0.309Z"]}}}},
        {"transform": [{"filter": "datum.k == 'o'"}], "mark": {"type": "point", "filled": false, "opacity": 1, "strokeWidth": 1.5, "size": 200},
         "encoding": {"shape": {"field": "q", "type": "nominal", "legend": null, "scale": {"domain": ["0.0", "0.5", "1.0", "2.0"], "range": ["circle", "triangle-up", "square", "M0,-1L0.951,-0.309L0.588,0.809L-0.588,0.809L-0.951,-0.309Z"]}}}},
        {"transform": [{"filter": "datum.k == 'o'"}], "mark": {"type": "point", "filled": false, "opacity": 0, "strokeWidth": 1.5},
         "encoding": {
           "color": {"field": "q", "type": "nominal", "scale": {"domain": ["0.0", "0.5", "1.0", "2.0"], "range": ["#f89540", "#0d0887", "#7e03a8", "#cc4778"]}, "legend": {"labelExpr": "'qGB = ' + datum.label"}},
           "shape": {"field": "q", "type": "nominal", "scale": {"domain": ["0.0", "0.5", "1.0", "2.0"], "range": ["M-2.1,0H2.1M0.65,0A0.65,0.65 0 1 1 -0.65,0A0.65,0.65 0 1 1 0.65,0Z", "M-2.1,0H2.1M0,-0.7L0.7,0.52L-0.7,0.52Z", "M-2.1,0H2.1M-0.6,-0.6H0.6V0.6H-0.6Z", "M-2.1,0H2.1M0,-0.7L0.666,-0.216L0.411,0.566L-0.411,0.566L-0.666,-0.216Z"]}, "legend": {"labelExpr": "'qGB = ' + datum.label"}}
         }}
      ],
      "resolve": {"scale": {"color": "independent", "shape": "independent"}}
    }
  ]
}
